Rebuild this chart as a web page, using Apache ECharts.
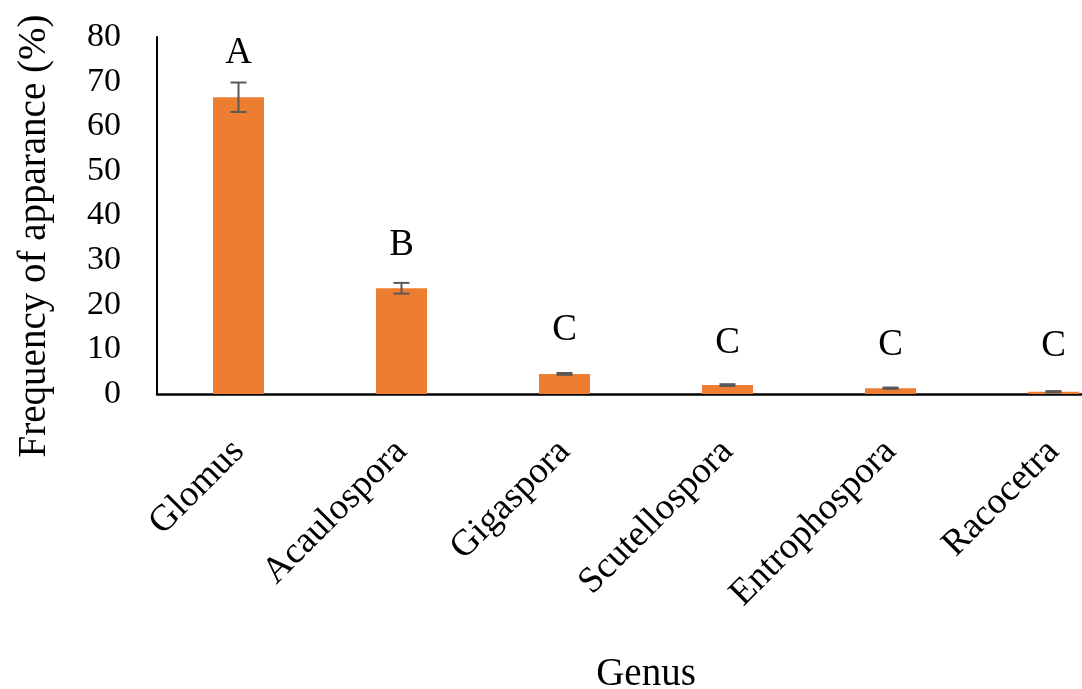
<!DOCTYPE html>
<html>
<head>
<meta charset="utf-8">
<script src="https://cdn.jsdelivr.net/npm/echarts@6/dist/echarts.min.js"></script>
<style>
html,body{margin:0;padding:0;background:#fff;overflow:hidden;}
#chart{width:1082px;height:689px;}
</style>
</head>
<body>
<div id="chart"></div>
<script>
const categories = ['Glomus', 'Acaulospora', 'Gigaspora', 'Scutellospora', 'Entrophospora', 'Racocetra'];
const frequency = [66.5, 23.7, 4.5, 2.0, 1.3, 0.5];
const errors = [3.3, 1.2, 0.2, 0.2, 0.15, 0.15];
const letters = ['A', 'B', 'C', 'C', 'C', 'C'];
const letterY = [76.4, 33.4, 14.3, 11.3, 11.0, 10.6];
const yMin = 0, yMax = 80, yStep = 10;
const yTitle = 'Frequency of apparance (%)';
const xTitle = 'Genus';

const FONT = '"Liberation Serif", "Times New Roman", serif';
const chart = echarts.init(document.getElementById('chart'), null, {renderer: 'canvas'});

const option = {
  backgroundColor: '#ffffff',
  animation: false,
  grid: {left: 157, top: 37, width: 978, height: 357, outerBoundsMode: 'none', containLabel: false},
  xAxis: {
    type: 'category',
    data: categories,
    axisLine: {show: true, lineStyle: {color: '#000', width: 2.5}},
    axisTick: {show: false},
    axisLabel: {rotate: 45, margin: 52, color: '#000', fontFamily: FONT, fontSize: 37, interval: 0},
    name: xTitle,
    nameLocation: 'middle',
    nameGap: 261,
    nameTextStyle: {color: '#000', fontFamily: FONT, fontSize: 39, verticalAlign: 'top'}
  },
  yAxis: {
    type: 'value',
    min: yMin, max: yMax, interval: yStep,
    axisLine: {show: true, lineStyle: {color: '#000', width: 2}},
    axisTick: {show: false},
    splitLine: {show: false},
    axisLabel: {margin: 36, color: '#000', fontFamily: FONT, fontSize: 34}
  },
  graphic: [{
    type: 'text',
    x: 35, y: 236,
    rotation: Math.PI / 2,
    style: {text: yTitle, fill: '#000', font: '39px ' + FONT, textAlign: 'center', textVerticalAlign: 'middle'}
  }],
  series: [
    {
      type: 'bar',
      data: frequency,
      barWidth: 51,
      itemStyle: {color: '#ED7D31'},
      z: 2
    },
    {
      type: 'custom',
      data: frequency.map((v, i) => [i, v - errors[i], v + errors[i]]),
      renderItem: function (params, api) {
        const lo = api.coord([api.value(0), api.value(1)]);
        const hi = api.coord([api.value(0), api.value(2)]);
        const x = lo[0], hw = 8;
        const st = {stroke: '#595959', lineWidth: 2};
        return {
          type: 'group',
          children: [
            {type: 'line', shape: {x1: x, y1: lo[1], x2: x, y2: hi[1]}, style: st},
            {type: 'line', shape: {x1: x - hw, y1: lo[1], x2: x + hw, y2: lo[1]}, style: st},
            {type: 'line', shape: {x1: x - hw, y1: hi[1], x2: x + hw, y2: hi[1]}, style: st}
          ]
        };
      },
      z: 3
    },
    {
      type: 'custom',
      data: letterY.map((v, i) => [i, v]),
      renderItem: function (params, api) {
        const p = api.coord([api.value(0), api.value(1)]);
        return {
          type: 'text',
          x: p[0], y: p[1],
          style: {text: letters[params.dataIndex], fill: '#000', font: '37px ' + FONT, textAlign: 'center', textVerticalAlign: 'middle'}
        };
      },
      z: 4
    }
  ]
};
chart.setOption(option);
</script>
</body>
</html>
